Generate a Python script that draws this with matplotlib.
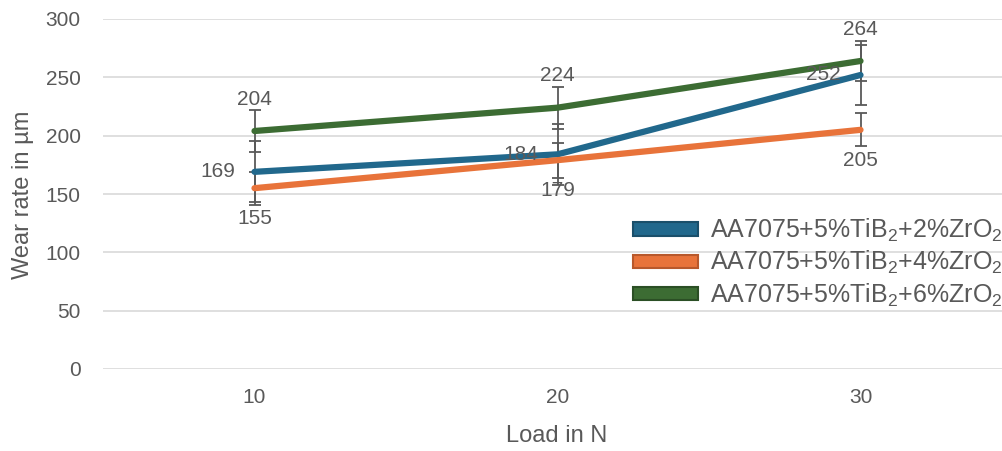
import matplotlib
matplotlib.use("Agg")
import matplotlib.pyplot as plt
from matplotlib.patches import Patch
import numpy as np

# ---- data ----
loads = ["10", "20", "30"]
series_names = [r"AA7075+5%TiB$_2$+2%ZrO$_2$",
                r"AA7075+5%TiB$_2$+4%ZrO$_2$",
                r"AA7075+5%TiB$_2$+6%ZrO$_2$"]
wear_2 = [169, 184, 252]
wear_4 = [155, 179, 205]
wear_6 = [204, 224, 264]
err_2 = [26, 26, 26]
err_4 = [14, 15, 14]
err_6 = [18, 18, 17]

colors = ["#21688C", "#E8733A", "#3C6C33"]
edge_colors = ["#1A4F6A", "#B8582B", "#2B4F25"]
label_pos = ["left", "below", "above"]

plt.rcParams['font.family'] = ['Liberation Sans', 'DejaVu Sans']
plt.rcParams['mathtext.fontset'] = 'custom'
plt.rcParams['mathtext.rm'] = 'Liberation Sans'
plt.rcParams['mathtext.it'] = 'Liberation Sans'
plt.rcParams['mathtext.bf'] = 'Liberation Sans'

text_color = "#595959"

fig = plt.figure(figsize=(10.02, 4.51), dpi=100)
W, H = 1002, 451
ax = fig.add_axes([103 / W, 1 - 369 / H, (1012 - 103) / W, (369 - 19) / H])

x = np.arange(len(loads))
all_vals = [wear_2, wear_4, wear_6]
all_errs = [err_2, err_4, err_6]

for vals, errs, c in zip(all_vals, all_errs, colors):
    ax.errorbar(x, vals, yerr=errs, fmt='none', ecolor=text_color,
                elinewidth=1.3, capsize=4.5, capthick=1.3, zorder=2)
for vals, c in zip(all_vals, colors):
    ax.plot(x, vals, color=c, lw=4.5, solid_capstyle='round', zorder=3)

for vals, pos in zip(all_vals, label_pos):
    for xi, v in zip(x, vals):
        if pos == "left":
            ax.annotate(str(v), (xi, v), xytext=(-14, 0), textcoords='offset points',
                        ha='right', va='center', fontsize=15, color=text_color, zorder=4)
        elif pos == "below":
            ax.annotate(str(v), (xi, v), xytext=(0, -22), textcoords='offset points',
                        ha='center', va='center', fontsize=15, color=text_color, zorder=4)
        else:
            ax.annotate(str(v), (xi, v), xytext=(0, 23), textcoords='offset points',
                        ha='center', va='center', fontsize=15, color=text_color, zorder=4)

ax.set_xlim(-0.5, 2.5)
ax.set_ylim(0, 300)
ax.set_yticks(np.arange(0, 301, 50))
ax.set_xticks(x)
ax.set_xticklabels(loads)
ax.grid(axis='y', color='#D9D9D9', lw=1.2)
ax.set_axisbelow(True)
for s in ax.spines.values():
    s.set_visible(False)
ax.tick_params(axis='both', length=0, labelsize=15, labelcolor=text_color)
ax.tick_params(axis='y', pad=16)
ax.tick_params(axis='x', pad=14)
ax.set_xlabel("Load in N", fontsize=17, color=text_color)
ax.set_ylabel("Wear rate in µm", fontsize=17, color=text_color)
ax.xaxis.set_label_coords((557 - 103) / (1012 - 103), -(425 - 369) / 350)
ax.yaxis.set_label_coords(-(103 - 34) / (1012 - 103), (369 - 195) / 350)

handles = [Patch(facecolor=c, edgecolor=e, lw=1.5) for c, e in zip(colors, edge_colors)]
leg = fig.legend(handles, series_names, loc='upper left',
                 bbox_to_anchor=(633 / W, 1 - 217 / H), bbox_transform=fig.transFigure,
                 frameon=False, fontsize=18, handlelength=2.6, handleheight=0.45,
                 handletextpad=0.5, labelspacing=0.2, borderpad=0, borderaxespad=0)
for t in leg.get_texts():
    t.set_color(text_color)

fig.savefig("out.png", dpi=100)
